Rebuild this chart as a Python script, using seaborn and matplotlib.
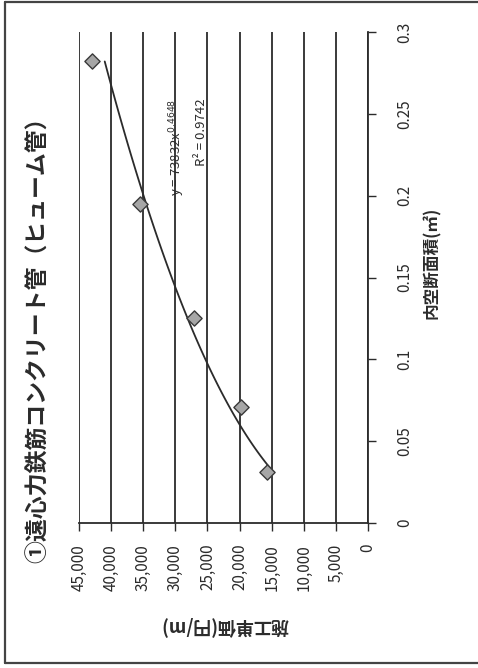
import numpy as np
import pandas as pd
import matplotlib
matplotlib.use("Agg")
import matplotlib.pyplot as plt
import seaborn as sns
from matplotlib.lines import Line2D

# ---------------- data ----------------
title = "①遠心力鉄筋コンクリート管（ヒューム管）"
x_label = "内空断面積(㎡)"
y_label = "施工単価(円/m)"

area = [0.031, 0.071, 0.125, 0.195, 0.282]          # 内空断面積 (m2)
cost = [15800, 19700, 27100, 35500, 42900]          # 施工単価 (円/m)

fit_coef = 73832
fit_exp = 0.4648
r2_value = 0.9742

area_ticks = [0, 0.05, 0.1, 0.15, 0.2, 0.25, 0.3]
area_tick_labels = ["0", "0.05", "0.1", "0.15", "0.2", "0.25", "0.3"]
cost_ticks = [0, 5000, 10000, 15000, 20000, 25000, 30000, 35000, 40000, 45000]
cost_tick_labels = ["0", "5,000", "10,000", "15,000", "20,000", "25,000",
                    "30,000", "35,000", "40,000", "45,000"]

# ---------------- style ----------------
sns.set_theme(style="white")
plt.rcParams["font.family"] = ["Noto Sans CJK JP", "DejaVu Sans"]
plt.rcParams["mathtext.fontset"] = "dejavusans"

ink = "#2b2b2b"

fig = plt.figure(figsize=(4.78, 6.68), dpi=100)
fig.patch.set_facecolor("white")
# The chart is printed rotated 90 degrees: cost runs right->left along the bottom,
# area runs bottom->top along the right side.
ax = fig.add_axes([79 / 478, 1 - 523 / 668, (368 - 79) / 478, (523 - 32) / 668])
ax.set_facecolor("white")

df = pd.DataFrame({"area": area, "cost": cost})

# trendline (power fit as printed on the chart), over the data range
fit_area = np.linspace(min(area), max(area), 120)
fit_cost = fit_coef * fit_area ** fit_exp
sns.lineplot(x=fit_cost, y=fit_area, sort=False, estimator=None,
             color=ink, linewidth=1.3, ax=ax, zorder=3)

sns.scatterplot(data=df, x="cost", y="area", marker="D", s=60,
                color="#a6a6a6", edgecolor="#3a3a3a", linewidth=1.0,
                ax=ax, zorder=4)

ax.set_xlim(45000, 0)
ax.set_ylim(0, 0.3)
ax.set_xticks(cost_ticks)
ax.set_xticklabels(cost_tick_labels, rotation=90, fontsize=11, color=ink)
ax.yaxis.tick_right()
ax.set_yticks(area_ticks)
ax.set_yticklabels(area_tick_labels, rotation=90, fontsize=11, color=ink,
                   va="center", ha="left")
ax.set_xlabel("")
ax.set_ylabel("")

ax.grid(axis="x", color=ink, linewidth=1.3)
ax.grid(axis="y", visible=False)
for side in ["top", "left"]:
    ax.spines[side].set_visible(False)
for side in ["bottom", "right"]:
    ax.spines[side].set_visible(True)
    ax.spines[side].set_color(ink)
    ax.spines[side].set_linewidth(1.3)

ax.tick_params(axis="x", bottom=True, direction="out", length=6, width=1.0,
               color=ink, pad=9)
ax.tick_params(axis="y", right=True, left=False, direction="out", length=6,
               width=1.0, color=ink, pad=14)

# trendline labels
ax.text(29700, 0.2296, f"y = {fit_coef}x$^{{{fit_exp}}}$", rotation=90,
        ha="center", va="center", fontsize=9.5, color=ink, zorder=5)
ax.text(26000, 0.2386, f"R² = {r2_value}", rotation=90,
        ha="center", va="center", fontsize=9.5, color=ink, zorder=5)

# titles (rotated with the chart)
fig.text(39 / 478, 1 - 334 / 668, title, rotation=90, ha="center", va="center",
         fontsize=16.5, fontweight="bold", color=ink)
fig.text(432 / 478, 1 - 263 / 668, x_label, rotation=90, ha="center",
         va="center", fontsize=12, fontweight="bold", color=ink)
fig.text(225 / 478, 1 - 626 / 668, y_label, rotation=180, ha="center",
         va="center", fontsize=13, fontweight="bold", color=ink)

# chart-area border
for xs, ys in [([5 / 478, 5 / 478], [1 - 2 / 668, 1 - 663 / 668]),
               ([5 / 478, 1.0], [1 - 2 / 668, 1 - 2 / 668]),
               ([5 / 478, 1.0], [1 - 663 / 668, 1 - 663 / 668])]:
    fig.add_artist(Line2D(xs, ys, transform=fig.transFigure, color="#444444",
                          linewidth=1.6))

fig.savefig("out.png", dpi=100, facecolor="white")
